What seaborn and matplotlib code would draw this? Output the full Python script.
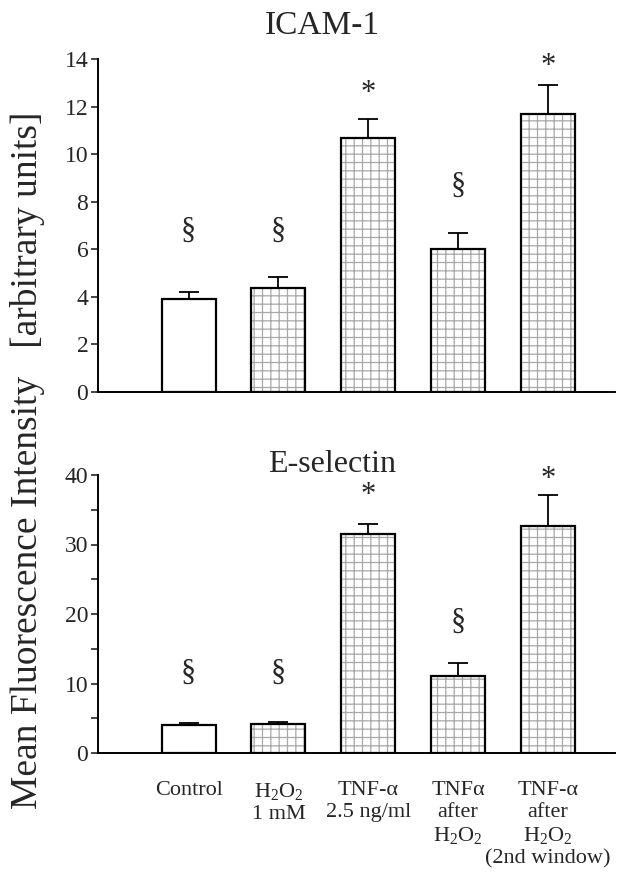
import numpy as np
import pandas as pd
import matplotlib
matplotlib.use("Agg")
import matplotlib.pyplot as plt
from matplotlib.patches import Rectangle
import seaborn as sns

# ---------------- data ----------------
categories = ["Control",
              "H$_2$O$_2$\n1 mM",
              "TNF-\u03b1\n2.5 ng/ml",
              "TNF\u03b1\nafter\nH$_2$O$_2$",
              "TNF-\u03b1\nafter\nH$_2$O$_2$\n(2nd window)"]

icam_values = [3.93, 4.36, 10.67, 6.00, 11.70]
icam_errors = [0.28, 0.49, 0.80, 0.67, 1.22]
icam_marks = ["\u00a7", "\u00a7", "*", "\u00a7", "*"]
icam_mark_y = [6.75, 6.75, 12.55, 8.64, 13.7]

esel_values = [4.0, 4.2, 31.5, 11.1, 32.7]
esel_errors = [0.25, 0.3, 1.4, 1.9, 4.4]
esel_marks = ["\u00a7", "\u00a7", "*", "\u00a7", "*"]
esel_mark_y = [11.4, 11.4, 37.0, 18.85, 39.4]

titles = ["ICAM-1", "E-selectin"]
ylabel = "Mean Fluorescence Intensity   [arbitrary units]"

# ---------------- style ----------------
sns.set_style("white")
plt.rcParams["font.family"] = ["Liberation Serif", "DejaVu Serif"]
plt.rcParams["mathtext.fontset"] = "custom"
plt.rcParams["mathtext.rm"] = "Liberation Serif"
plt.rcParams["mathtext.it"] = "Liberation Serif:italic"
plt.rcParams["mathtext.bf"] = "Liberation Serif:bold"
plt.rcParams["hatch.linewidth"] = 0.9

fig = plt.figure(figsize=(6.18, 8.8), dpi=100)
ax1 = fig.add_axes([98 / 618, 1 - 392 / 880, 517 / 618, 333 / 880])
ax2 = fig.add_axes([98 / 618, 1 - 753 / 880, 517 / 618, 278 / 880])


def draw_panel(ax, values, errors, marks, mark_y):
    df = pd.DataFrame({"group": categories, "value": values})
    sns.barplot(data=df, x="group", y="value", ax=ax, color="white",
                edgecolor="#a8a8a8", linewidth=0, width=0.6, saturation=1)
    for i, p in enumerate(ax.patches):
        if i > 0:
            p.set_hatch("++")
        ax.add_patch(Rectangle(p.get_xy(), p.get_width(), p.get_height(),
                               fill=False, edgecolor="black", linewidth=1.6,
                               zorder=3))
    x = np.arange(len(categories))
    ax.errorbar(x, values, yerr=[np.zeros(len(values)), errors], fmt="none",
                ecolor="black", elinewidth=1.3, capsize=7, capthick=1.3,
                zorder=2)
    for xi, m, y in zip(x, marks, mark_y):
        ax.text(xi, y, m, ha="center", va="center", fontsize=22,
                clip_on=False)
    ax.set_xlim(-1.01, 4.75)
    ax.set_xlabel("")
    ax.set_ylabel("")
    sns.despine(ax=ax)
    for s in ["left", "bottom"]:
        ax.spines[s].set_linewidth(1.4)
        ax.spines[s].set_color("black")
    ax.tick_params(axis="y", direction="out", length=5, width=1.2,
                   labelsize=17, pad=2, left=True, which="both")


draw_panel(ax1, icam_values, icam_errors, icam_marks, icam_mark_y)
ax1.set_ylim(0, 14)
ax1.set_yticks(np.arange(0, 15, 2))
ax1.tick_params(axis="x", bottom=False, labelbottom=False)

draw_panel(ax2, esel_values, esel_errors, esel_marks, esel_mark_y)
ax2.set_ylim(0, 40)
ax2.set_yticks(np.arange(0, 41, 10))
ax2.set_yticks(np.arange(5, 40, 10), minor=True)
ax2.tick_params(axis="x", bottom=False, length=0, labelsize=16, pad=20)
for lab in ax2.get_xticklabels():
    lab.set_verticalalignment("top")
    lab.set_linespacing(1.22)

fig.text(322 / 618, 1 - 34 / 880, titles[0], ha="center", va="baseline",
         fontsize=24)
fig.text(332 / 618, 1 - 472 / 880, titles[1], ha="center", va="baseline",
         fontsize=23)
fig.text(28 / 618, 1 - 460 / 880, ylabel, rotation=90, ha="center",
         va="center", fontsize=27)

fig.savefig("out.png", dpi=100)
